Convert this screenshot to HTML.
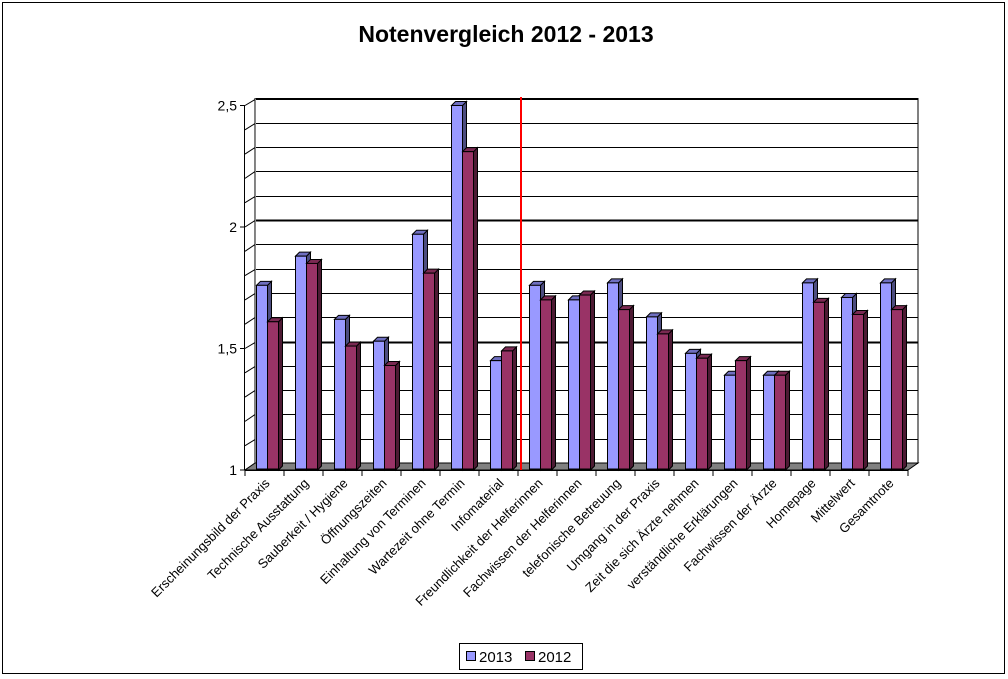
<!DOCTYPE html>
<html><head><meta charset="utf-8"><style>
body{margin:0;background:#fff}
svg{display:block;font-family:"Liberation Sans",sans-serif}
</style></head><body>
<svg id="c" width="1008" height="679">
<rect x="2.5" y="2.5" width="1002" height="671" fill="#fff" stroke="#000"/>
<text x="506" y="42" text-anchor="middle" font-size="23" font-weight="bold">Notenvergleich 2012 - 2013</text>
<g id="plot"></g>
<g>
<rect x="459.5" y="643.5" width="123" height="26" fill="#fff" stroke="#000"/>
<g><rect x="466.5" y="651.5" width="9" height="9" fill="#9999ff" stroke="#000"/><text x="479" y="662" font-size="15">2013</text></g>
<g><rect x="525.5" y="651.5" width="9" height="9" fill="#993366" stroke="#000"/><text x="538" y="662" font-size="15">2012</text></g>
</g>
</svg>
<script>
const categories=["Erscheinungsbild der Praxis","Technische Ausstattung","Sauberkeit / Hygiene","Öffnungszeiten","Einhaltung von Terminen","Wartezeit ohne Termin","Infomaterial","Freundlichkeit der Helferinnen","Fachwissen der Helferinnen","telefonische Betreuung","Umgang in der Praxis","Zeit die sich Ärzte nehmen","verständliche Erklärungen","Fachwissen der Ärzte","Homepage","Mittelwert","Gesamtnote"];
const values2013=[1.76,1.88,1.62,1.53,1.97,2.50,1.45,1.76,1.70,1.77,1.63,1.48,1.39,1.39,1.77,1.71,1.77];
const values2012=[1.61,1.85,1.51,1.43,1.81,2.31,1.49,1.70,1.72,1.66,1.56,1.46,1.45,1.39,1.69,1.64,1.66];
const yTicks=[1,1.5,2,2.5];
const yTickLabels=["1","1,5","2","2,5"];
const dividerAfter=7;

const NS="http://www.w3.org/2000/svg";
const g=document.getElementById("plot");
const X0=245,CW=39,Y0=470,PPU=243,DX=10,DY=7;
const yS=v=>Y0-(v-1)*PPU;
const xS=i=>X0+i*CW;
const N=categories.length;
function el(t,a,p){const e=document.createElementNS(NS,t);for(const k in a)e.setAttribute(k,a[k]);(p||g).appendChild(e);return e;}
// back wall
const wall=el("rect",{x:X0+DX,y:yS(2.5)-DY,width:N*CW,height:(2.5-1)*PPU,fill:"#fff",stroke:"#000","stroke-width":1});


// gridlines
for(let k=0;k<=15;k++){const v=1+k*0.1;const y=Math.round(yS(v)-DY)+0.5;const thick=(Math.abs(v-1.5)<1e-6||Math.abs(v-2)<1e-6);
const l=el("line",{x1:X0+DX,x2:X0+DX+N*CW,y1:y,y2:y,stroke:"#000","stroke-width":thick?2:1});


const d=el("line",{x1:X0,y1:yS(v),x2:X0+DX,y2:y,stroke:"#000"});

}
// side wall line
const sw=el("line",{x1:X0+DX+0.5,y1:yS(2.5)-DY,x2:X0+DX+0.5,y2:Y0-DY,stroke:"#888"});


// floor
const fl=el("polygon",{points:`${X0},${Y0} ${X0+N*CW},${Y0} ${X0+N*CW+DX},${Y0-DY} ${X0+DX},${Y0-DY}`,fill:"#808080",stroke:"#000"});


// y axis
const ya=el("line",{x1:X0-0.5,y1:yS(2.5),x2:X0-0.5,y2:Y0,stroke:"#000"});


yTicks.forEach((v,i)=>{const t=el("line",{x1:X0-5,x2:X0,y1:yS(v),y2:yS(v),stroke:"#000"});


const tx=el("text",{x:X0-8,y:yS(v)+5,"text-anchor":"end","font-size":14});tx.textContent=yTickLabels[i];

});
const xa=el("line",{x1:X0,x2:X0+N*CW,y1:Y0+0.5,y2:Y0+0.5,stroke:"#000"});


function bar(x,v,w,front,side,top,name){
 const y=yS(v),d=4;
 const grp=el("g",{});
 
 
 el("polygon",{points:`${x+w},${y} ${x+w+d},${y-d} ${x+w+d},${Y0-d} ${x+w},${Y0}`,fill:side,stroke:"#000"},grp);
 el("polygon",{points:`${x},${y} ${x+d},${y-d} ${x+w+d},${y-d} ${x+w},${y}`,fill:top,stroke:"#000"},grp);
 el("rect",{x:x,y:y,width:w,height:Y0-1-y,fill:front,stroke:"#000"},grp);
}
for(let i=0;i<N;i++){
 const x=xS(i);
 const t=el("line",{x1:x,x2:x,y1:Y0,y2:Y0+6,stroke:"#000"});
 
 
 bar(x+11.5,values2013[i],11,"#9999ff","#4d4d80","#6f6fc0","bar-2013-"+i);
 bar(x+22.5,values2012[i],11,"#993366","#4d1a33","#7a2952","bar-2012-"+i);
 const cx=x+CW/2+6;
 const lb=el("text",{x:cx,y:Y0+14,"text-anchor":"end","font-size":13,transform:`rotate(-45 ${cx} ${Y0+14})`});
 lb.textContent=categories[i];
 
 
}
el("line",{x1:X0+N*CW,x2:X0+N*CW,y1:Y0,y2:Y0+6,stroke:"#000"});
const dx=xS(dividerAfter)+3;
const rl=el("line",{x1:dx,x2:dx,y1:97,y2:Y0,stroke:"#ff0000","stroke-width":2});


</script>
</body></html>
